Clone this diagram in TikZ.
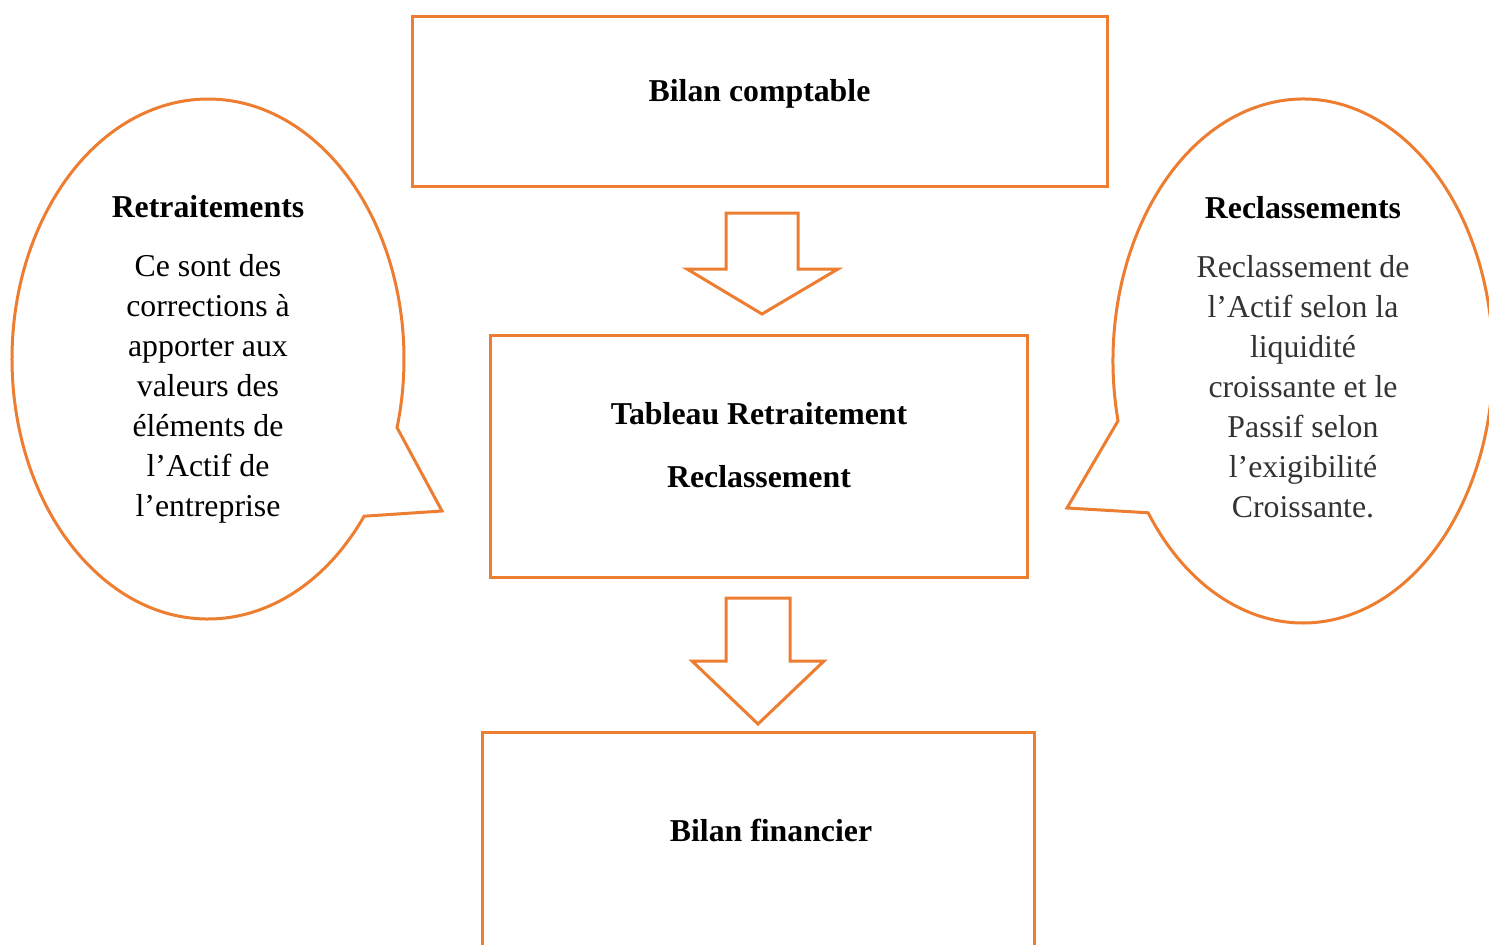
\documentclass[tikz,border=0pt]{standalone}
\usepackage{fontspec}
\setmainfont{Liberation Serif}
\usetikzlibrary{positioning}
\definecolor{accent}{HTML}{ED7D31}
\definecolor{softtext}{HTML}{333333}

\begin{document}
\begin{tikzpicture}[x=0.5pt,y=-0.5pt,
  frame/.style={draw=accent,line width=1.5pt},
  title/.style={font=\fontsize{15.9}{20}\selectfont\bfseries,align=center},
  body/.style={font=\fontsize{15.9}{20}\selectfont,align=center}]
\clip (0,0) rectangle (1489,944);
% boxes
\draw[frame] (412,16) rectangle (1107,186);
\draw[frame] (490,335) rectangle (1027,577);
\draw[frame] (482,732) rectangle (1034,980);
\node[title] (compta) at (759.5,94) {Bilan comptable};
\node[title,font=\fontsize{15.9}{31.5}\selectfont\bfseries] (tableau) at (759,445)
  {Tableau Retraitement\\Reclassement};
\node[title] (financier) at (771,830) {Bilan financier};
% block arrows
\draw[frame,line join=miter] (726,213) -- (798,213) -- (798,269) -- (838,269)
  -- (762,314) -- (687,269) -- (726,269) -- cycle;
\draw[frame,line join=miter] (726,598) -- (790,598) -- (790,661) -- (824,661)
  -- (758,724) -- (692,661) -- (726,661) -- cycle;
% callouts
\coordinate (lc) at (208,359);
\coordinate (rc) at (1303,361);
\draw[frame] (442,511) -- ([shift={(37.2:196 and 260)}]lc)
  arc[start angle=37.2,end angle=375.3,x radius=196,y radius=260] -- cycle;
\draw[frame] (1067,508) -- ([shift={(166.8:190 and 262)}]rc)
  arc[start angle=166.8,end angle=504.6,x radius=190,y radius=262] -- cycle;
\node[title] (retrait) at (208,207) {Retraitements};
\node[body] (retraittext) at (208,389)
  {Ce sont des\\corrections à\\apporter aux\\valeurs des\\éléments de\\l’Actif de\\l’entreprise};
\node[title] (reclass) at (1303,208) {Reclassements};
\node[body,text=softtext] (reclasstext) at (1303,387)
  {Reclassement de\\l’Actif selon la\\liquidité\\croissante et le\\Passif selon\\l’exigibilité\\Croissante.};
\end{tikzpicture}
\end{document}
